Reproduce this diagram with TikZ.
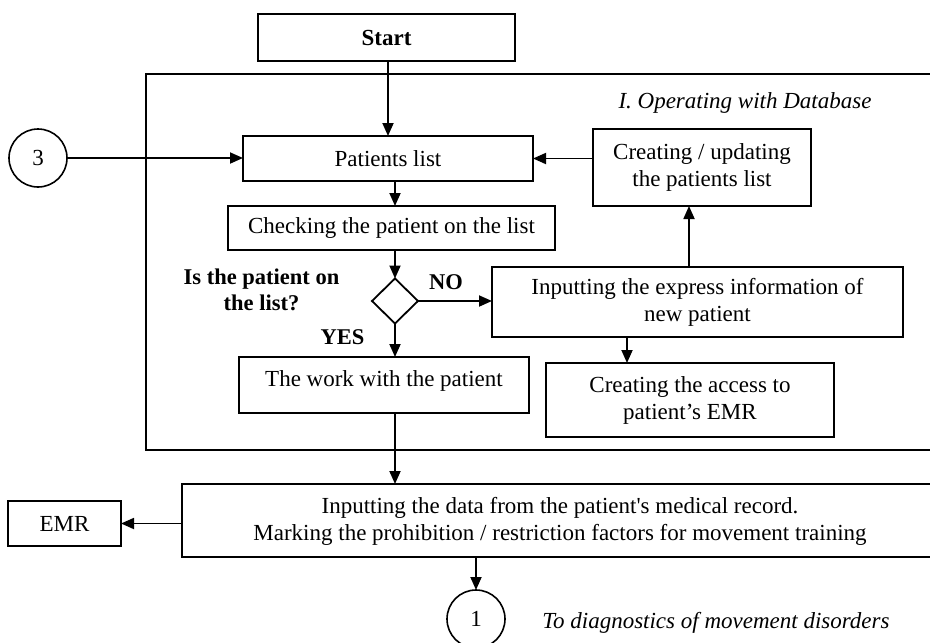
\documentclass[tikz,border=0pt]{standalone}
\usepackage{fontspec}
\setmainfont{Liberation Serif}
\usetikzlibrary{arrows.meta,shapes.geometric,calc}
\begin{document}
\begin{tikzpicture}[x=1pt,y=-1pt,
  every node/.style={inner sep=0pt,outer sep=0pt},
  box/.style={draw,line width=1.8pt,align=center,font=\fontsize{23}{27}\selectfont},
  circ/.style={draw,circle,line width=1.6pt,minimum size=58pt,font=\fontsize{23}{27}\selectfont},
  lbl/.style={font=\fontsize{22.5}{26}\selectfont\bfseries,align=center},
  note/.style={font=\fontsize{23}{27}\selectfont\itshape},
  arr/.style={line width=1.8pt,-{Triangle[length=13pt,width=11pt]}},
  ln/.style={line width=1.8pt}]
\clip (0,0) rectangle (930,643);
% frame
\draw[ln] (146,74) rectangle (945,450);
\node[note] (sec) at (745,103) {I. Operating with Database};
% boxes
\node[box,minimum width=257pt,minimum height=47pt] (start) at (386.5,37.5) {\bfseries Start};
\node[box,minimum width=290pt,minimum height=45pt] (pl) at (388,158.5) {Patients list};
\node[box,minimum width=218pt,minimum height=77pt] (cu) at (702,167.5) {Creating / updating\\the patients list};
\node[box,minimum width=327pt,minimum height=44pt] (chk) at (391.5,228) {Checking the patient on the list};
\node[draw,diamond,line width=1.8pt,minimum width=46pt,minimum height=45pt] (dia) at (395,301) {};
\node[box,minimum width=411pt,minimum height=70pt] (ex) at (697.5,302) {Inputting the express information of\\new patient};
\node[box,minimum width=290pt,minimum height=56pt] (work) at (384,385) {};
\node[font=\fontsize{23}{27}\selectfont] (worktxt) at (384,381) {The work with the patient};
\node[box,minimum width=288pt,minimum height=74pt] (acc) at (690,400) {Creating the access to\\patient’s EMR};
\node[box,minimum width=770pt,minimum height=73pt] (data) at (567,520.5) {};
\node[font=\fontsize{23}{27}\selectfont,align=center] (datatxt) at (560,521) {Inputting the data from the patient\textquotesingle s medical record.\\Marking the prohibition / restriction factors for movement training};
\node[box,minimum width=113pt,minimum height=45pt] (emr) at (64.5,523.5) {EMR};
\node[circ] (c3) at (38,158) {3};
\node[circ] (c1) at (476,619) {1};
% labels
\node[lbl] (q) at (261.5,290) {Is the patient on\\the list?};
\node[lbl] (no) at (446,282) {NO};
\node[lbl] (yes) at (342.5,337) {YES};
\node[note] (diag) at (716,623) {To diagnostics of movement disorders};
% connectors
\coordinate (cuin) at ([xshift=-13pt]cu.south);
\coordinate (accin) at ([xshift=-63pt]acc.north);
\draw[arr] (start.south -| pl.north) -- (pl.north);
\draw[arr] (c3.east) -- (c3.east -| pl.west);
\draw[arr] (cu.west |- pl.east) -- (pl.east);
\draw[arr] (pl.south -| dia.north) -- (chk.north -| dia.north);
\draw[arr] (chk.south -| dia.north) -- (dia.north);
\draw[arr] (dia.east) -- (dia.east -| ex.west);
\draw[arr] (dia.south) -- (work.north -| dia.south);
\draw[arr] (ex.north -| cuin) -- (cuin);
\draw[arr] (ex.south -| accin) -- (accin);
\draw[arr] (work.south -| dia.south) -- (data.north -| dia.south);
\draw[arr] (data.west |- emr.east) -- (emr.east);
\draw[arr] (c1.north |- data.south) -- (c1.north);
\end{tikzpicture}
\end{document}
